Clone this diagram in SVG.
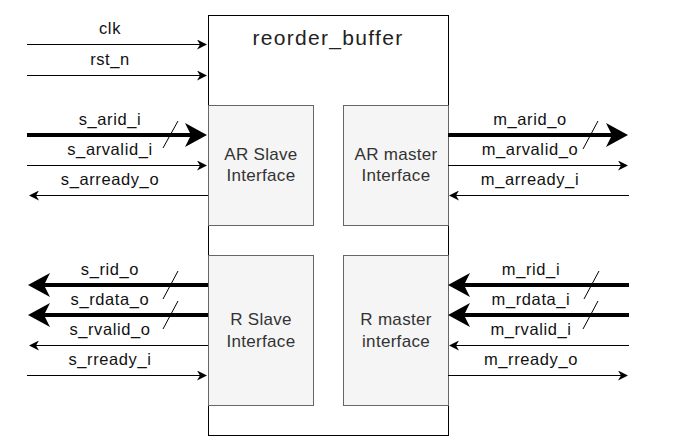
<svg xmlns="http://www.w3.org/2000/svg" width="678" height="442" viewBox="0 0 678 442">
<style>
text{font-family:"Liberation Sans",Arial,sans-serif;text-anchor:middle}
.lbl{font-size:16.5px;letter-spacing:0.6px;fill:#111}
.box{font-size:17px;letter-spacing:0.3px;fill:#333}
.title{font-size:21px;letter-spacing:1.3px;fill:#222}
.thin{stroke:#000;stroke-width:1;fill:none;marker-end:url(#ah)}
.thick{stroke:#000;stroke-width:4;fill:none;marker-end:url(#ahb)}
.slash{stroke:#000;stroke-width:1;fill:none}
.sub{fill:#f5f5f5;stroke:#666;stroke-width:1}
</style>
<defs>
<marker id="ah" markerUnits="userSpaceOnUse" viewBox="0 0 10 10" refX="3" refY="5" markerWidth="10" markerHeight="10" orient="auto">
<path d="M0,0 L10,5 L0,10 L3,5 Z" fill="#000"/>
</marker>
<marker id="ahb" markerUnits="userSpaceOnUse" viewBox="0 0 22 24" refX="6" refY="12" markerWidth="22" markerHeight="24" orient="auto">
<path d="M0,0 L22,12 L0,24 L6,12 Z" fill="#000"/>
</marker>
</defs>
<rect width="678" height="442" fill="#fff"/>
<g id="reorder_buffer">
<rect x="208.5" y="15.5" width="240" height="420" fill="#fff" stroke="#000"/>
<text class="title" x="328" y="45">reorder_buffer</text>
</g>
<g id="ar_slave">
<rect class="sub" x="208.5" y="105.5" width="105" height="120"/>
<text class="box" x="261" y="160">AR Slave</text>
<text class="box" x="261" y="181">Interface</text>
</g>
<g id="ar_master">
<rect class="sub" x="343.5" y="105.5" width="105" height="120"/>
<text class="box" x="396" y="160">AR master</text>
<text class="box" x="396" y="181">Interface</text>
</g>
<g id="r_slave">
<rect class="sub" x="208.5" y="255.5" width="105" height="150"/>
<text class="box" x="261" y="325">R Slave</text>
<text class="box" x="261" y="347">Interface</text>
</g>
<g id="r_master">
<rect class="sub" x="343.5" y="255.5" width="105" height="150"/>
<text class="box" x="396" y="325">R master</text>
<text class="box" x="396" y="347">interface</text>
</g>
<g id="connectors">
<path class="thin" d="M27,44.5 H200"/>
<path class="thin" d="M27,75.5 H200"/>
<path class="thick" d="M27,135 H191"/>
<line class="slash" x1="163" y1="148" x2="178" y2="121"/>
<path class="thin" d="M27,165.5 H200"/>
<path class="thin" d="M208,195.5 H36"/>
<path class="thick" d="M448,135 H612"/>
<line class="slash" x1="583" y1="149" x2="598" y2="121"/>
<path class="thin" d="M448,165.5 H621"/>
<path class="thin" d="M629,195.5 H456"/>
<path class="thick" d="M208,285 H44"/>
<line class="slash" x1="163" y1="299" x2="178" y2="271"/>
<path class="thick" d="M208,315 H44"/>
<line class="slash" x1="163" y1="329" x2="178" y2="301"/>
<path class="thin" d="M208,345.5 H36"/>
<path class="thin" d="M27,375.5 H200"/>
<path class="thick" d="M629,285 H464"/>
<line class="slash" x1="584" y1="299" x2="599" y2="271"/>
<path class="thick" d="M629,315 H464"/>
<line class="slash" x1="583" y1="329" x2="598" y2="301"/>
<path class="thin" d="M629,345.5 H456"/>
<path class="thin" d="M448,375.5 H621"/>
</g>
<g id="labels">
<text class="lbl" x="110" y="34">clk</text>
<text class="lbl" x="110" y="65">rst_n</text>
<text class="lbl" x="110" y="125">s_arid_i</text>
<text class="lbl" x="110" y="155">s_arvalid_i</text>
<text class="lbl" x="110" y="185">s_arready_o</text>
<text class="lbl" x="530" y="125">m_arid_o</text>
<text class="lbl" x="530" y="155">m_arvalid_o</text>
<text class="lbl" x="530" y="185">m_arready_i</text>
<text class="lbl" x="110" y="275">s_rid_o</text>
<text class="lbl" x="110" y="305">s_rdata_o</text>
<text class="lbl" x="110" y="335">s_rvalid_o</text>
<text class="lbl" x="110" y="365">s_rready_i</text>
<text class="lbl" x="531" y="275">m_rid_i</text>
<text class="lbl" x="531" y="305">m_rdata_i</text>
<text class="lbl" x="531" y="335">m_rvalid_i</text>
<text class="lbl" x="531" y="365">m_rready_o</text>
</g>
</svg>
